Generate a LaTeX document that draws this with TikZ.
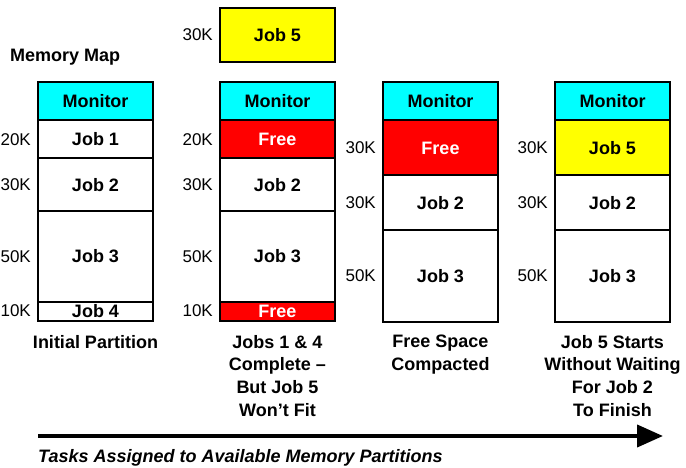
\documentclass[tikz,border=0pt]{standalone}
\usepackage{fontspec}
\setmainfont{Liberation Sans}[Ligatures=ResetAll]
\usetikzlibrary{arrows.meta,calc}
\definecolor{mon}{RGB}{0,255,255}
\definecolor{freered}{RGB}{255,0,0}
\definecolor{jobyellow}{RGB}{255,255,0}
\tikzset{
  blk/.style={draw=black, line width=2pt, minimum width=115pt, inner sep=0pt,
    font=\fontsize{18}{18}\selectfont\bfseries, text=black, fill=white},
  monitor/.style={blk, fill=mon},
  freeblk/.style={blk, fill=freered, text=white},
  job5/.style={blk, fill=jobyellow},
  size/.style={anchor=east, font=\fontsize{17}{18}\selectfont, inner sep=0pt},
  caption/.style={anchor=north, align=center, inner sep=0pt,
    font=\fontsize{18}{22.7}\selectfont\bfseries},
}
\begin{document}
\begin{tikzpicture}[x=1pt,y=-1pt]
\useasboundingbox (0,0) rectangle (686,468);

% title
\node[anchor=west, inner sep=0pt, font=\fontsize{18}{18}\selectfont\bfseries] (title) at (10,57) {Memory Map};

% column 1: initial partition
\node[monitor, minimum height=38pt] (m1) at (95.5,101.5) {Monitor};
\node[blk, minimum height=38pt] (a1) at (95.5,139.5) {Job 1};
\node[blk, minimum height=53pt] (a2) at (95.5,185) {Job 2};
\node[blk, minimum height=90pt] (a3) at (95.5,256.5) {Job 3};
\node[blk, minimum height=19pt] (a4) at (95.5,311) {Job 4};
\node[size] (sa1) at ($(a1.west)+(-6,0)$) {20K};
\node[size] (sa2) at ($(a2.west)+(-6,0)$) {30K};
\node[size] (sa3) at ($(a3.west)+(-6,0)$) {50K};
\node[size] (sa4) at ($(a4.west)+(-6,0)$) {10K};
\node[caption] (c1) at (95.5,335) {Initial Partition};

% column 2: jobs 1 and 4 complete
\node[job5, minimum height=54pt] (j5) at (277.5,35) {Job 5};
\node[size] (sj5) at ($(j5.west)+(-6,0)$) {30K};
\node[monitor, minimum height=38pt] (m2) at (277.5,101.5) {Monitor};
\node[freeblk, minimum height=38pt] (b1) at (277.5,139.5) {Free};
\node[blk, minimum height=53pt] (b2) at (277.5,185) {Job 2};
\node[blk, minimum height=90pt] (b3) at (277.5,256.5) {Job 3};
\node[freeblk, minimum height=19pt] (b4) at (277.5,311) {Free};
\node[size] (sb1) at ($(b1.west)+(-6,0)$) {20K};
\node[size] (sb2) at ($(b2.west)+(-6,0)$) {30K};
\node[size] (sb3) at ($(b3.west)+(-6,0)$) {50K};
\node[size] (sb4) at ($(b4.west)+(-6,0)$) {10K};
\node[caption] (c2) at (277.5,335) {Jobs 1 \& 4\\Complete –\\But Job 5\\Won't Fit};

% column 3: free space compacted
\node[monitor, minimum height=38pt] (m3) at (440.5,101.5) {Monitor};
\node[freeblk, minimum height=55pt] (d1) at (440.5,148) {Free};
\node[blk, minimum height=55pt] (d2) at (440.5,203) {Job 2};
\node[blk, minimum height=91pt] (d3) at (440.5,276) {Job 3};
\node[size] (sd1) at ($(d1.west)+(-6,0)$) {30K};
\node[size] (sd2) at ($(d2.west)+(-6,0)$) {30K};
\node[size] (sd3) at ($(d3.west)+(-6,0)$) {50K};
\node[caption] (c3) at (440.5,335) {Free Space\\Compacted};

% column 4: job 5 loaded
\node[monitor, minimum height=38pt] (m4) at (612.5,101.5) {Monitor};
\node[job5, minimum height=55pt] (e1) at (612.5,148) {Job 5};
\node[blk, minimum height=55pt] (e2) at (612.5,203) {Job 2};
\node[blk, minimum height=91pt] (e3) at (612.5,276) {Job 3};
\node[size] (se1) at ($(e1.west)+(-6,0)$) {30K};
\node[size] (se2) at ($(e2.west)+(-6,0)$) {30K};
\node[size] (se3) at ($(e3.west)+(-6,0)$) {50K};
\node[caption] (c4) at (612.5,335) {Job 5 Starts\\Without Waiting\\For Job 2\\To Finish};

% timeline arrow
\coordinate (tstart) at (38,436);
\coordinate (tend) at (663,436);
\draw[line width=4pt, -{Triangle[length=26pt,width=22pt]}] (tstart) -- (tend);
\node[anchor=west, inner sep=0pt, font=\fontsize{18}{18}\selectfont\bfseries\itshape] (tasks) at (38,458) {Tasks Assigned to Available Memory Partitions};
\end{tikzpicture}
\end{document}
